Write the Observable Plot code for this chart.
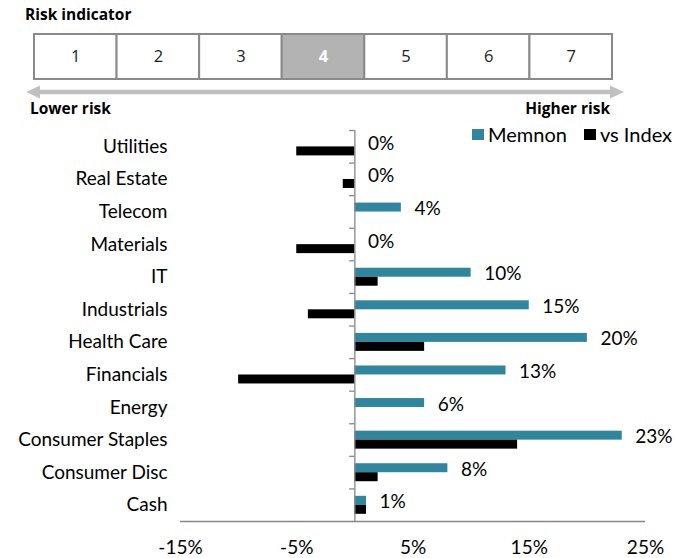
<!DOCTYPE html>
<html>
<head>
<meta charset="utf-8">
<script src="https://cdn.jsdelivr.net/npm/d3@7"></script>
<script src="https://cdn.jsdelivr.net/npm/@observablehq/plot@0.6"></script>
<style>
  html, body { margin: 0; padding: 0; background: #fff; }
  #wrap { position: relative; width: 677px; height: 558px; overflow: hidden; font-family: "Open Sans", sans-serif; }
  .abs { position: absolute; }
  .hdr { font-family: "Open Sans", sans-serif; font-weight: 700; font-size: 15.5px; color: #000; line-height: 1; white-space: nowrap; }
  #legend { position: absolute; left: 472px; top: 122px; display: flex; align-items: center; font-family: Lato, sans-serif; font-size: 20px; color: #000; white-space: nowrap; }
  #legend .sw { display: inline-block; width: 12px; height: 11px; margin-right: 4px; }
  #legend .item { display: flex; align-items: center; margin-right: 17px; }
</style>
</head>
<body>
<div id="wrap">
  <div class="abs hdr" style="left:25px; top:7px;">Risk indicator</div>
  <div id="risk" class="abs" style="left:0; top:30px;"></div>
  <svg class="abs" style="left:0; top:80px;" width="677" height="24">
    <line x1="38" y1="12" x2="612" y2="12" stroke="#c0c0c0" stroke-width="4.5"></line>
    <polygon points="26,12 40,5.5 40,18.5" fill="#c0c0c0"></polygon>
    <polygon points="624,12 610,5.5 610,18.5" fill="#c0c0c0"></polygon>
  </svg>
  <div class="abs hdr" style="left:30px; top:100.5px;">Lower risk</div>
  <div class="abs hdr" style="right:67px; top:100.5px;">Higher risk</div>
  <div id="chart" class="abs" style="left:0; top:120px;"></div>
  <div id="legend"></div>
</div>
<script>
// ---- data ----
const categories = ["Utilities", "Real Estate", "Telecom", "Materials", "IT", "Industrials",
  "Health Care", "Financials", "Energy", "Consumer Staples", "Consumer Disc", "Cash"];
const memnon  = [0, 0, 4, 0, 10, 15, 20, 13, 6, 23, 8, 1];
const vsIndex = [-5, -1, 0, -5, 2, -4, 6, -10, 0, 14, 2, 1];
const seriesNames = ["Memnon", "vs Index"];
const seriesColors = ["#31859C", "#000000"];
const xTicks = [-15, -5, 5, 15, 25];
const xDomain = [-15, 25];
const riskLevels = [1, 2, 3, 4, 5, 6, 7];
const riskCurrent = 4;

// ---- risk indicator ----
const riskPlot = Plot.plot({
  width: 677, height: 54,
  marginLeft: 34, marginRight: 65, marginTop: 4, marginBottom: 5,
  x: {domain: riskLevels, padding: 0, round: false, axis: null},
  style: {fontFamily: "Open Sans, sans-serif", background: "transparent"},
  marks: [
    Plot.cell(riskLevels, {x: d => d, fill: d => d === riskCurrent ? "#b3b3b3" : "#ffffff",
      stroke: "#8a8a8a", strokeWidth: 2, inset: 0}),
    Plot.text(riskLevels.filter(d => d !== riskCurrent), {x: d => d, text: d => String(d), fontSize: 16.5, fill: "#222"}),
    Plot.text([riskCurrent], {x: d => d, text: d => String(d), fontSize: 16.5, fill: "#ffffff", fontWeight: "bold"})
  ]
});
document.getElementById("risk").appendChild(riskPlot);

// ---- main chart ----
const rows = categories.map((c, i) => ({category: c, memnon: memnon[i], index: vsIndex[i]}));
const W = 677, H = 438, mT = 10, mB = 37, mL = 180, mR = 32;
const bw = (H - mT - mB) / categories.length;
const axisGray = "#878787";
const fs = 19;

const chart = Plot.plot({
  width: W, height: H,
  marginTop: mT, marginBottom: mB, marginLeft: mL, marginRight: mR,
  x: {domain: xDomain},
  y: {domain: categories, padding: 0, round: false},
  style: {fontFamily: "Lato, sans-serif", fontSize: fs + "px", color: "#000", background: "transparent"},
  marks: [
    Plot.barX(rows, {x: "memnon", y: "category", fill: seriesColors[0], insetTop: 7.4, insetBottom: 16.2}),
    Plot.barX(rows, {x: "index", y: "category", fill: seriesColors[1], insetTop: 16.4, insetBottom: 7.2}),
    Plot.ruleX([0], {stroke: axisGray, strokeWidth: 1.3}),
    Plot.ruleY(categories, {y: d => d, x1: -0.45, x2: 0, dy: -bw / 2, stroke: axisGray, strokeWidth: 1.3}),
    Plot.ruleY([categories[categories.length - 1]], {y: d => d, x1: xDomain[0], x2: xDomain[1], dy: bw / 2, stroke: axisGray, strokeWidth: 1.3}),
    Plot.text(rows, {x: "memnon", y: "category", text: d => d.memnon + "%", dx: 13, dy: -3,
      textAnchor: "start", fontSize: fs, fill: "#000"}),
    Plot.axisX({ticks: xTicks, tickFormat: d => d + "%", tickSize: 0, tickPadding: 18.5, fontSize: fs, label: null}),
    Plot.axisY({tickSize: 0, tickPadding: 13, fontSize: fs, label: null})
  ]
});
document.getElementById("chart").appendChild(chart);

// ---- legend ----
const legend = document.getElementById("legend");
seriesNames.forEach((name, i) => {
  const item = document.createElement("span");
  item.className = "item";
  const sw = document.createElement("span");
  sw.className = "sw";
  sw.style.background = seriesColors[i];
  const t = document.createElement("span");
  t.textContent = name;
  item.appendChild(sw); item.appendChild(t);
  legend.appendChild(item);
});
</script>
</body>
</html>
